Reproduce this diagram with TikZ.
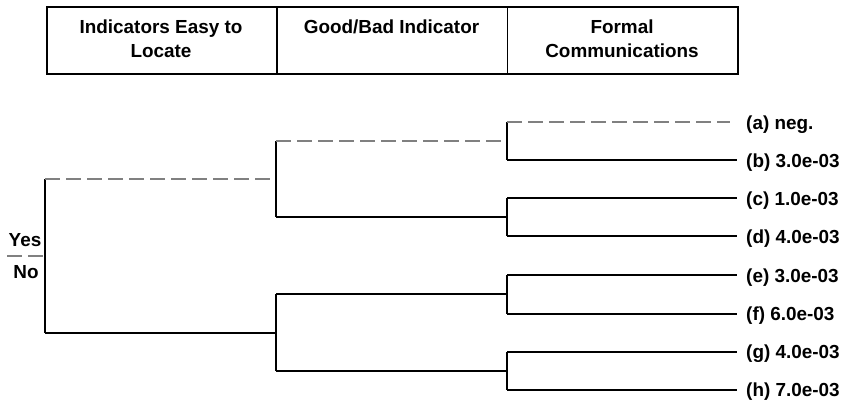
\documentclass[tikz,border=0pt]{standalone}
\usepackage{fontspec}
\setmainfont{Liberation Sans}
\begin{document}
\begin{tikzpicture}[x=1pt,y=-1pt,
  headcell/.style={draw=black,line width=1.6pt,minimum height=67pt,minimum width=230.3pt,anchor=north west,inner sep=0pt},
  headtext/.style={anchor=north,align=center,inner sep=0pt,font=\bfseries\fontsize{18.9}{24}\selectfont},
  branch/.style={draw=black,line width=2pt},
  dashbranch/.style={draw=black!50,line width=2pt,dash pattern=on 15pt off 6pt},
  leaflabel/.style={anchor=base west,inner sep=0pt,font=\bfseries\fontsize{18.9}{24}\selectfont},
  sidelabel/.style={anchor=base,inner sep=0pt,font=\bfseries\fontsize{18.9}{24}\selectfont}]
\useasboundingbox (0,0) rectangle (843,403);

% column headers
\node[headcell] (h1) at (46,6) {};
\node[headcell] (h2) at (276.3,6) {};
\node[headcell] (h3) at (506.6,6) {};
\node[headtext] (t1) at (161,19.6) {Indicators Easy to\\Locate};
\node[headtext] (t2) at (391.5,19.6) {Good/Bad Indicator};
\node[headtext] (t3) at (622,19.6) {Formal\\Communications};

% junctions of the tree
\coordinate (r) at (45,256);
\coordinate (n1) at (276,179.5);
\coordinate (n2) at (276,332.5);
\coordinate (n11) at (507,141.5);
\coordinate (n12) at (507,217.5);
\coordinate (n21) at (507,294.5);
\coordinate (n22) at (507,370.5);
\coordinate (yn) at (7,256);

% leaf ends
\foreach \k/\y in {a/122.5,b/160.5,c/198.5,d/236.5,e/275.5,f/313.5,g/351.5,h/389.5}
  \coordinate (l\k) at (737,\y);

% root split
\draw[dashbranch] (yn) -- (r);
\draw[branch] (r |- n1) -- (r |- n2);
\draw[dashbranch] (r |- n1) -- (n1);
\draw[branch] (r |- n2) -- (n2);

% second level
\draw[branch] (n1 |- n11) -- (n1 |- n12);
\draw[dashbranch] (n1 |- n11) -- (n11);
\draw[branch] (n1 |- n12) -- (n12);
\draw[branch] (n2 |- n21) -- (n2 |- n22);
\draw[branch] (n2 |- n21) -- (n21);
\draw[branch] (n2 |- n22) -- (n22);

% third level
\draw[branch] (n11 |- la) -- (n11 |- lb);
\draw[dashbranch] (n11 |- la) -- ([xshift=-7pt]la);
\draw[branch] (n11 |- lb) -- (lb);
\draw[branch] (n12 |- lc) -- (n12 |- ld);
\draw[branch] (n12 |- lc) -- (lc);
\draw[branch] (n12 |- ld) -- (ld);
\draw[branch] (n21 |- le) -- (n21 |- lf);
\draw[branch] (n21 |- le) -- (le);
\draw[branch] (n21 |- lf) -- (lf);
\draw[branch] (n22 |- lg) -- (n22 |- lh);
\draw[branch] (n22 |- lg) -- (lg);
\draw[branch] (n22 |- lh) -- (lh);

% leaf labels
\node[leaflabel] (ta) at ([xshift=9pt,yshift=-6.7pt]la) {(a) neg.};
\node[leaflabel] (tb) at ([xshift=9pt,yshift=-6.7pt]lb) {(b) 3.0e-03};
\node[leaflabel] (tc) at ([xshift=9pt,yshift=-6.7pt]lc) {(c) 1.0e-03};
\node[leaflabel] (td) at ([xshift=9pt,yshift=-6.7pt]ld) {(d) 4.0e-03};
\node[leaflabel] (te) at ([xshift=9pt,yshift=-6.7pt]le) {(e) 3.0e-03};
\node[leaflabel] (tf) at ([xshift=9pt,yshift=-6.7pt]lf) {(f) 6.0e-03};
\node[leaflabel] (tg) at ([xshift=9pt,yshift=-6.7pt]lg) {(g) 4.0e-03};
\node[leaflabel] (th) at ([xshift=9pt,yshift=-6.7pt]lh) {(h) 7.0e-03};

% split labels
\node[sidelabel] (yes) at (25,247) {Yes};
\node[sidelabel] (no) at (26,279) {No};
\end{tikzpicture}
\end{document}
